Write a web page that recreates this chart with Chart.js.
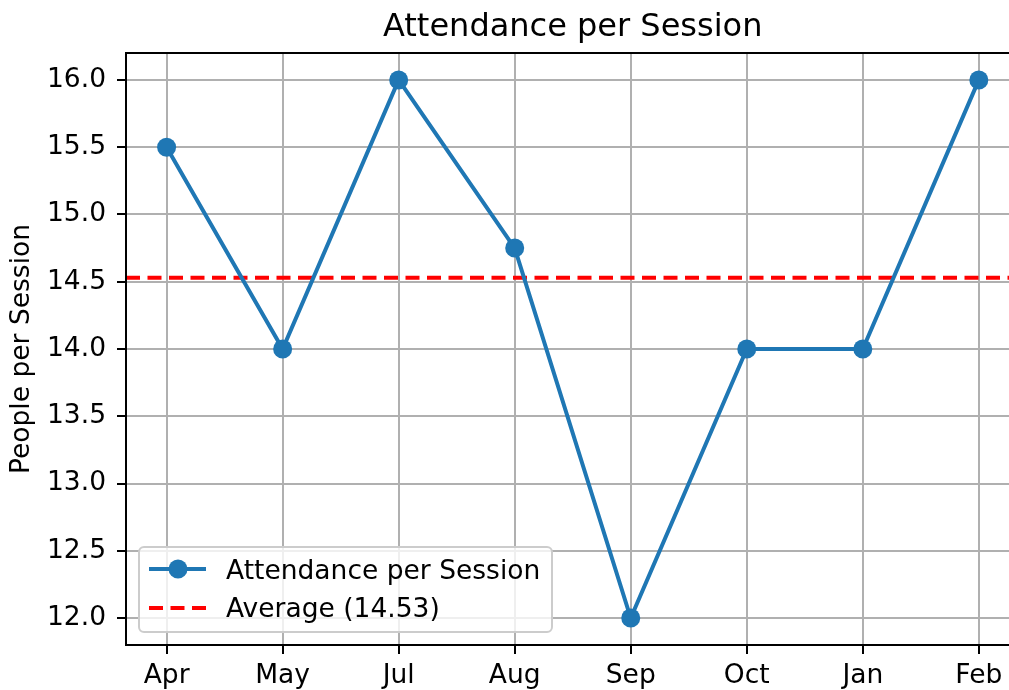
<!DOCTYPE html>
<html>
<head>
<meta charset="utf-8">
<script src="https://cdn.jsdelivr.net/npm/chart.js@4/dist/chart.umd.min.js"></script>
<style>
    body { margin: 0; background: #fff; }
    #wrap { width: 1009px; height: 690px; }
</style>
</head>
<body>
<div id="wrap"><canvas id="myChart" width="1009" height="690"></canvas></div>
<script>
const months = ['Apr', 'May', 'Jul', 'Aug', 'Sep', 'Oct', 'Jan', 'Feb'];
const attendance = [15.5, 14, 16, 14.75, 12, 14, 14, 16];
const average = 14.53;
const yTicks = [12.0, 12.5, 13.0, 13.5, 14.0, 14.5, 15.0, 15.5, 16.0];
// the original figure is cropped on the right, so the visible x range stops short of 7.35
const xRange = [-0.35, 7.26];
const yRange = [11.8, 16.2];

const FONT = 'DejaVu Sans';
const TICK_SIZE = 26.5;

const framePlugin = {
    id: 'framePlugin',
    afterDraw: (chart) => {
        const ctx = chart.ctx;
        const a = chart.chartArea;
        ctx.save();
        // left, top and bottom spines (right one is cut off in the original)
        ctx.strokeStyle = '#000';
        ctx.lineWidth = 2;
        ctx.beginPath();
        ctx.moveTo(chart.width, a.top);
        ctx.lineTo(a.left, a.top);
        ctx.lineTo(a.left, a.bottom);
        ctx.lineTo(chart.width, a.bottom);
        ctx.stroke();

        // title, centred on the full axes
        const xs = chart.scales.x;
        const axesMid = (xs.getPixelForValue(-0.35) + xs.getPixelForValue(7.35)) / 2;
        ctx.fillStyle = '#000';
        ctx.font = `32px ${FONT}`;
        ctx.textAlign = 'center';
        ctx.textBaseline = 'alphabetic';
        ctx.fillText('Attendance per Session', axesMid, 36);

        // legend box
        const lx = 139, ly = 547, lw = 413, lh = 85;
        ctx.fillStyle = 'rgba(255,255,255,0.8)';
        ctx.strokeStyle = '#cccccc';
        ctx.lineWidth = 2;
        ctx.beginPath();
        ctx.roundRect(lx, ly, lw, lh, 5);
        ctx.fill();
        ctx.stroke();

        const ds = chart.data.datasets;
        ctx.font = `${TICK_SIZE}px ${FONT}`;
        ctx.textAlign = 'left';
        // attendance entry
        let y = 569;
        ctx.strokeStyle = ds[0].borderColor;
        ctx.lineWidth = ds[0].borderWidth;
        ctx.beginPath();
        ctx.moveTo(149, y);
        ctx.lineTo(206, y);
        ctx.stroke();
        ctx.fillStyle = ds[0].pointBackgroundColor;
        ctx.beginPath();
        ctx.arc(178, y, ds[0].pointRadius, 0, Math.PI * 2);
        ctx.fill();
        ctx.fillStyle = '#000';
        ctx.fillText(ds[0].label, 226, 579);
        // average entry
        y = 608;
        ctx.strokeStyle = ds[1].borderColor;
        ctx.lineWidth = ds[1].borderWidth;
        ctx.setLineDash(ds[1].borderDash);
        ctx.beginPath();
        ctx.moveTo(149, y);
        ctx.lineTo(206, y);
        ctx.stroke();
        ctx.setLineDash([]);
        ctx.fillText(ds[1].label, 226, 617);
        ctx.restore();
    }
};

const gridStyle = { color: '#b0b0b0', lineWidth: 2, tickLength: 9, tickColor: '#000', tickWidth: 2 };

const ctx = document.getElementById('myChart').getContext('2d');
const myChart = new Chart(ctx, {
    type: 'line',
    data: {
        datasets: [{
            label: 'Attendance per Session',
            data: attendance.map((v, i) => ({ x: i, y: v })),
            borderColor: '#1f77b4',
            backgroundColor: '#1f77b4',
            pointBackgroundColor: '#1f77b4',
            pointBorderColor: '#1f77b4',
            borderWidth: 4,
            pointRadius: 9.5,
            pointBorderWidth: 0,
            tension: 0
        }, {
            label: `Average (${average.toFixed(2)})`,
            data: xRange.map(x => ({ x: x, y: average })),
            borderColor: '#ff0000',
            borderWidth: 4,
            borderDash: [14, 7.5],
            pointRadius: 0,
            tension: 0
        }]
    },
    options: {
        responsive: false,
        animation: false,
        layout: { autoPadding: false, padding: { left: 0, right: 0, top: 53, bottom: 0 } },
        plugins: {
            legend: { display: false },
            title: { display: false },
            tooltip: { enabled: false }
        },
        scales: {
            x: {
                type: 'linear',
                min: xRange[0],
                max: xRange[1],
                afterBuildTicks: (scale) => {
                    scale.ticks = months.map((m, i) => ({ value: i }));
                },
                afterFit: (scale) => {
                    scale.height = 45;
                    scale.paddingLeft = 0;
                    scale.paddingRight = 0;
                },
                ticks: {
                    color: '#000',
                    font: { family: FONT, size: TICK_SIZE },
                    padding: 6,
                    maxRotation: 0,
                    autoSkip: false,
                    callback: (v) => months[v]
                },
                grid: gridStyle,
                border: { display: false }
            },
            y: {
                min: yRange[0],
                max: yRange[1],
                afterBuildTicks: (scale) => {
                    scale.ticks = yTicks.map(v => ({ value: v }));
                },
                afterFit: (scale) => {
                    scale.width = 126;
                    scale.paddingTop = 0;
                    scale.paddingBottom = 0;
                },
                ticks: {
                    color: '#000',
                    font: { family: FONT, size: TICK_SIZE },
                    padding: 11,
                    autoSkip: false,
                    callback: (v) => Number(v).toFixed(1)
                },
                title: {
                    display: true,
                    text: 'People per Session',
                    color: '#000',
                    font: { family: FONT, size: TICK_SIZE },
                    padding: { top: 6, bottom: 0 }
                },
                grid: gridStyle,
                border: { display: false }
            }
        }
    },
    plugins: [framePlugin]
});
</script>
</body>
</html>
